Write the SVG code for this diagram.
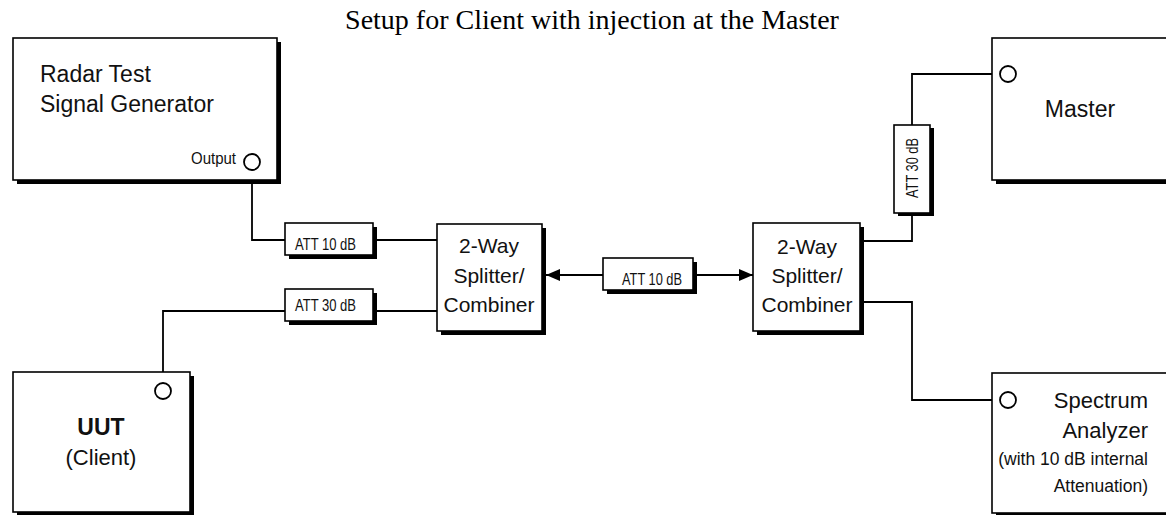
<svg xmlns="http://www.w3.org/2000/svg" width="1166" height="515" viewBox="0 0 1166 515">
<defs>
<style>
.box{fill:#fff;stroke:#000;stroke-width:1.6}
.sh{fill:#000}
.ln{fill:none;stroke:#000;stroke-width:1.8}
.port{fill:#fff;stroke:#000;stroke-width:1.8}
.t{font-family:"Liberation Sans",Arial,sans-serif;fill:#111}
.att{font-family:"Liberation Sans",Arial,sans-serif;fill:#111;font-size:16px}
.title{font-family:"Liberation Serif","Times New Roman",serif;fill:#000;font-size:28px}
</style>
<marker id="ah" viewBox="0 0 14 12" refX="14" refY="6" markerWidth="14" markerHeight="12" markerUnits="userSpaceOnUse" orient="auto">
<path d="M0,0 L14,6 L0,12 Z" fill="#000"/>
</marker>
</defs>
<rect width="1166" height="515" fill="#fff"/>
<text class="title" x="592" y="29" text-anchor="middle">Setup for Client with injection at the Master</text>

<g id="connectors">
<path class="ln" d="M252,170 V240 H285"/>
<path class="ln" d="M376,240 H437"/>
<path class="ln" d="M163,383 V311 H285"/>
<path class="ln" d="M376,311 H437"/>
<path class="ln" d="M603,275 H546" marker-end="url(#ah)"/>
<path class="ln" d="M697,275 H753" marker-end="url(#ah)"/>
<path class="ln" d="M864,241 H912 V216"/>
<path class="ln" d="M912,125 V74 H1000"/>
<path class="ln" d="M864,302 H912 V400 H1000"/>
</g>

<g id="radar">
<rect class="sh" x="17" y="42" width="264" height="142"/>
<rect class="box" x="13" y="38" width="264" height="142"/>
<text class="t" x="40" y="82" font-size="23">Radar Test</text>
<text class="t" x="40" y="112" font-size="23">Signal Generator</text>
<text class="t" x="236" y="164" font-size="17" text-anchor="end" textLength="45" lengthAdjust="spacingAndGlyphs">Output</text>
<circle class="port" cx="252" cy="162" r="8"/>
</g>

<g id="att10a">
<rect class="sh" x="289" y="227" width="88" height="32"/>
<rect class="box" x="285" y="223" width="88" height="32"/>
<text class="att" x="295" y="250" textLength="61" lengthAdjust="spacingAndGlyphs">ATT 10 dB</text>
</g>

<g id="att30a">
<rect class="sh" x="289" y="293" width="88" height="32"/>
<rect class="box" x="285" y="289" width="88" height="32"/>
<text class="att" x="295" y="311" textLength="61" lengthAdjust="spacingAndGlyphs">ATT 30 dB</text>
</g>

<g id="splitterL">
<rect class="sh" x="441" y="228" width="105" height="107"/>
<rect class="box" x="437" y="224" width="105" height="107"/>
<text class="t" x="489" y="253" font-size="21" text-anchor="middle">2-Way</text>
<text class="t" x="489" y="283" font-size="21" text-anchor="middle">Splitter/</text>
<text class="t" x="489" y="312" font-size="21" text-anchor="middle">Combiner</text>
</g>

<g id="att10b">
<rect class="sh" x="607" y="262" width="90" height="32"/>
<rect class="box" x="603" y="258" width="90" height="32"/>
<text class="att" x="622" y="285" textLength="60" lengthAdjust="spacingAndGlyphs">ATT 10 dB</text>
</g>

<g id="splitterR">
<rect class="sh" x="757" y="227" width="107" height="108"/>
<rect class="box" x="753" y="223" width="107" height="108"/>
<text class="t" x="807" y="254" font-size="21" text-anchor="middle">2-Way</text>
<text class="t" x="807" y="283" font-size="21" text-anchor="middle">Splitter/</text>
<text class="t" x="807" y="312" font-size="21" text-anchor="middle">Combiner</text>
</g>

<g id="att30b">
<rect class="sh" x="898" y="128" width="36" height="88"/>
<rect class="box" x="894" y="125" width="36" height="88"/>
<text class="att" transform="translate(918,168) rotate(-90)" text-anchor="middle" textLength="60" lengthAdjust="spacingAndGlyphs">ATT 30 dB</text>
</g>

<g id="master">
<rect class="sh" x="996" y="42" width="200" height="142"/>
<rect class="box" x="992" y="38" width="200" height="142"/>
<circle class="port" cx="1008" cy="74" r="8"/>
<text class="t" x="1080" y="117" font-size="23" text-anchor="middle">Master</text>
</g>

<g id="uut">
<rect class="sh" x="17" y="376" width="177" height="140"/>
<rect class="box" x="13" y="372" width="177" height="140"/>
<circle class="port" cx="163" cy="391" r="8"/>
<text class="t" x="101" y="435" font-size="23" font-weight="bold" text-anchor="middle">UUT</text>
<text class="t" x="101" y="465" font-size="22" text-anchor="middle">(Client)</text>
</g>

<g id="spectrum">
<rect class="sh" x="996" y="377" width="200" height="140"/>
<rect class="box" x="992" y="373" width="200" height="140"/>
<circle class="port" cx="1008" cy="400" r="8"/>
<text class="t" x="1148" y="408" font-size="22" text-anchor="end">Spectrum</text>
<text class="t" x="1148" y="438" font-size="22" text-anchor="end">Analyzer</text>
<text class="t" x="1148" y="465" font-size="17.5" text-anchor="end">(with 10 dB internal</text>
<text class="t" x="1148" y="492" font-size="17.5" text-anchor="end">Attenuation)</text>
</g>
</svg>
